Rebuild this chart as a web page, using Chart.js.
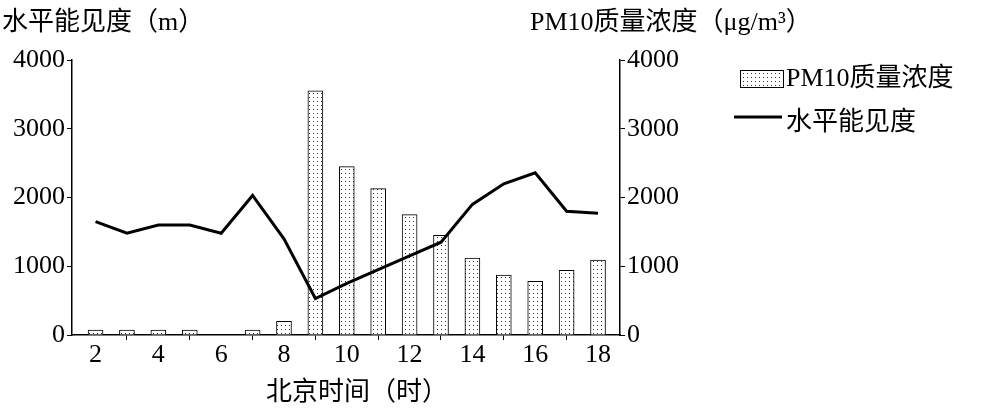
<!DOCTYPE html>
<html><head><meta charset="utf-8">
<script src="https://cdn.jsdelivr.net/npm/chart.js@4"></script>
<style>
body{margin:0;background:#fff;font-family:"Liberation Serif","Noto Sans CJK SC",serif;}
#wrap{position:relative;width:999px;height:413px;}
.t{position:absolute;font-size:26px;color:#000;white-space:nowrap;}
</style></head><body>
<div id="wrap">
<canvas id="c" width="999" height="413"></canvas>
<div class="t" style="left:2px;top:0px">水平能见度（m）</div>
<div class="t" style="left:530px;top:0px">PM10质量浓度（μg/m³）</div>
<div class="t" style="left:266px;top:370px">北京时间（时）</div>
<div class="t" style="left:786px;top:56px">PM10质量浓度</div>
<div class="t" style="left:786px;top:100px">水平能见度</div>
<canvas id="lg" width="60" height="80" style="position:absolute;left:730px;top:60px"></canvas>
</div>
<script>
const hours = [2,3,4,5,6,7,8,9,10,11,12,13,14,15,16,17,18]
const pm10 = [70,70,70,70,0,70,200,3550,2450,2130,1750,1450,1120,870,780,940,1090]
const visibility = [1650,1480,1600,1600,1480,2030,1400,530,750,950,1150,1350,1900,2200,2360,1800,1770]
const xTicks = [2,4,6,8,10,12,14,16,18]

function dots() {
  const p = document.createElement('canvas')
  p.width = 4; p.height = 4
  const g = p.getContext('2d')
  g.fillStyle = '#fff'; g.fillRect(0,0,4,4)
  g.fillStyle = '#333'; g.fillRect(1,1,1,1)
  return g.createPattern(p, 'repeat')
}
const pat = dots()

const lg = document.getElementById('lg').getContext('2d')
lg.fillStyle = pat; lg.fillRect(10,10,44,18)
lg.strokeStyle = '#000'; lg.lineWidth = 1; lg.strokeRect(10.5,10.5,43,17)
lg.lineWidth = 3; lg.beginPath(); lg.moveTo(4,57); lg.lineTo(52,57); lg.stroke()

const font = { family: '"Liberation Serif", serif', size: 26 }
const grid = { display: true, drawOnChartArea: false, tickLength: 5, color: '#000' }
new Chart(document.getElementById('c'), {
  data: {
    datasets: [
      { type: 'line', data: hours.map((h,i)=>({x:h,y:visibility[i]})), yAxisID: 'y',
        borderColor: '#000', borderWidth: 3, pointRadius: 0, tension: 0 },
      { type: 'bar', data: hours.map((h,i)=>({x:h,y:pm10[i]})), yAxisID: 'y2',
        backgroundColor: pat, borderColor: '#000', borderWidth: 1, barThickness: 15 }
    ]
  },
  options: {
    responsive: false, animation: false,
    layout: { padding: { top: 60, right: 304, bottom: 44, left: 0 } },
    plugins: { legend: { display: false }, tooltip: { enabled: false } },
    scales: {
      x: { type: 'linear', min: 1.25, max: 18.7, offset: false, grid,
        border: { color: '#000', width: 1.5 },
        afterFit: s => { s.height = 34 },
        afterBuildTicks: s => { s.ticks = xTicks.map(v=>({value:v})) },
        ticks: { color: '#000', font, padding: 0, maxRotation: 0 } },
      y: { min: 0, max: 4000, position: 'left', grid,
        border: { color: '#000', width: 1.5 },
        afterFit: s => { s.width = 72 },
        ticks: { stepSize: 1000, color: '#000', font, padding: 2, callback: v => String(v) } },
      y2: { min: 0, max: 4000, position: 'right', grid,
        border: { color: '#000', width: 1.5 },
        afterFit: s => { s.width = 75 },
        ticks: { stepSize: 1000, color: '#000', font, padding: 2, callback: v => String(v) } }
    }
  }
})
</script>
</body></html>
